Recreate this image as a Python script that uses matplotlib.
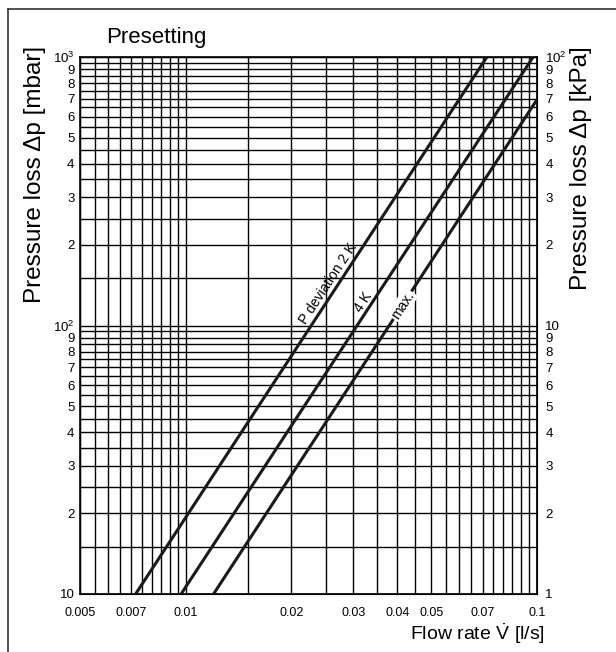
import numpy as np
import matplotlib
matplotlib.use("Agg")
import matplotlib.pyplot as plt
from matplotlib.lines import Line2D
from matplotlib.ticker import FixedLocator, FixedFormatter, NullLocator

plt.rcParams["font.family"] = ["Liberation Sans", "DejaVu Sans"]
plt.rcParams["mathtext.fontset"] = "custom"
plt.rcParams["mathtext.rm"] = "Liberation Sans"
plt.rcParams["mathtext.it"] = "Liberation Sans:italic"

# presetting curves (flow l/s, pressure loss mbar) - straight lines on log-log
flow_2k = [0.0072, 0.072]
dp_2k = [10, 1000]
flow_4k = [0.0097, 0.0975]
dp_4k = [10, 1000]
flow_max = [0.012, 0.1]
dp_max = [10, 694]

x_ticks = [0.005, 0.007, 0.01, 0.02, 0.03, 0.04, 0.05, 0.07, 0.1]
x_labels = ["0.005", "0.007", "0.01", "0.02", "0.03", "0.04", "0.05", "0.07", "0.1"]
y_ticks = [10, 20, 30, 40, 50, 60, 70, 80, 90, 100,
           200, 300, 400, 500, 600, 700, 800, 900, 1000]
y_labels = ["10", "2", "3", "4", "5", "6", "7", "8", "9", "$10^2$",
            "2", "3", "4", "5", "6", "7", "8", "9", "$10^3$"]
kpa_ticks = [1, 2, 3, 4, 5, 6, 7, 8, 9, 10,
             20, 30, 40, 50, 60, 70, 80, 90, 100]
kpa_labels = ["1", "2", "3", "4", "5", "6", "7", "8", "9", "10",
              "2", "3", "4", "5", "6", "7", "8", "9", "$10^2$"]

W, H = 616, 652
fig = plt.figure(figsize=(W / 100, H / 100), dpi=100)
ax = fig.add_axes([80 / W, 1 - 594 / H, (537 - 80) / W, (594 - 57) / H])
ax.set_xscale("log")
ax.set_yscale("log")
ax.set_xlim(0.005, 0.1)
ax.set_ylim(10, 1000)

# grid: 0.0005 steps up to 0.01, then 0.005 steps; 5 mbar steps up to 100, then 50
x_grid = np.round(np.concatenate([np.arange(0.005, 0.01, 0.0005),
                                  np.arange(0.01, 0.1001, 0.005)]), 5)
y_grid = np.concatenate([[10], np.arange(15, 100, 5), np.arange(100, 1001, 50)])
for xv in x_grid:
    ax.axvline(xv, color="black", lw=1.0, zorder=1)
for yv in y_grid:
    ax.axhline(yv, color="black", lw=1.0, zorder=1)

ax.plot(flow_2k, dp_2k, color="#1a1a1a", lw=2.2, zorder=3)
ax.plot(flow_4k, dp_4k, color="#1a1a1a", lw=2.2, zorder=3)
ax.plot(flow_max, dp_max, color="#1a1a1a", lw=2.2, zorder=3)

ax.xaxis.set_major_locator(FixedLocator(x_ticks))
ax.xaxis.set_major_formatter(FixedFormatter(x_labels))
ax.xaxis.set_minor_locator(NullLocator())
ax.yaxis.set_major_locator(FixedLocator(y_ticks))
ax.yaxis.set_major_formatter(FixedFormatter(y_labels))
ax.yaxis.set_minor_locator(NullLocator())
ax.tick_params(axis="x", length=0, pad=9)
ax.tick_params(axis="y", length=0, pad=4, labelsize=9.5)
for lab in ax.get_xticklabels():
    lab.set_family(["Liberation Sans Narrow", "Liberation Sans"])
    lab.set_fontsize(9)
for sp in ax.spines.values():
    sp.set_linewidth(1.2)

ax2 = ax.twinx()
ax2.set_yscale("log")
ax2.set_ylim(1, 100)
ax2.yaxis.set_major_locator(FixedLocator(kpa_ticks))
ax2.yaxis.set_major_formatter(FixedFormatter(kpa_labels))
ax2.yaxis.set_minor_locator(NullLocator())
ax2.tick_params(axis="y", length=0, pad=6, labelsize=9.5)


def on_line(flow, dp, v):
    return 10 ** np.interp(np.log10(v), np.log10(flow), np.log10(dp))


def line_angle(flow, dp):
    p = ax.transData.transform(np.column_stack([flow, dp]))
    return np.degrees(np.arctan2(p[1, 1] - p[0, 1], p[1, 0] - p[0, 0]))


narrow = ["Liberation Sans Narrow", "Liberation Sans"]
v1 = 0.0273
ax.annotate("P deviation 2 K", (v1, on_line(flow_2k, dp_2k, v1)), xytext=(-7.5, 0),
            textcoords="offset points", ha="center", va="center",
            rotation=line_angle(flow_2k, dp_2k), rotation_mode="anchor",
            fontsize=10, family=narrow, zorder=4)
v2 = 0.034
ax.annotate("4 K", (v2, on_line(flow_4k, dp_4k, v2)), xytext=(-6.5, 0),
            textcoords="offset points", ha="center", va="center",
            rotation=line_angle(flow_4k, dp_4k), rotation_mode="anchor",
            fontsize=10, family=narrow, zorder=4)
v3 = 0.0414
ax.annotate("max.", (v3, on_line(flow_max, dp_max, v3)), xytext=(0, 0),
            textcoords="offset points", ha="center", va="center",
            rotation=line_angle(flow_max, dp_max), rotation_mode="anchor",
            fontsize=10, family=narrow, zorder=4,
            bbox=dict(boxstyle="square,pad=0.1", fc="white", ec="none"))

fig.text(106 / W, 1 - 43.5 / H, "Presetting", ha="left", va="baseline", fontsize=16)
fig.text(35 / W, 1 - 46 / H, "Pressure loss \u0394p [mbar]", rotation=90,
         ha="center", va="top", fontsize=17.5)
fig.text(581 / W, 1 - 46 / H, "Pressure loss \u0394p [kPa]", rotation=90,
         ha="center", va="top", fontsize=17.5)
fig.text(545 / W, 1 - 640 / H, r"Flow rate $\dot{\mathrm{V}}$ [l/s]", ha="right",
         va="baseline", fontsize=14)

# page frame (left and top edge)
fig.add_artist(Line2D([7.5 / W, 7.5 / W], [0, 1 - 9 / H], color="#333333", lw=1.2,
                      transform=fig.transFigure))
fig.add_artist(Line2D([7.5 / W, 1], [1 - 9 / H, 1 - 9 / H], color="#333333", lw=1.2,
                      transform=fig.transFigure))

fig.savefig("out.png", dpi=100)
